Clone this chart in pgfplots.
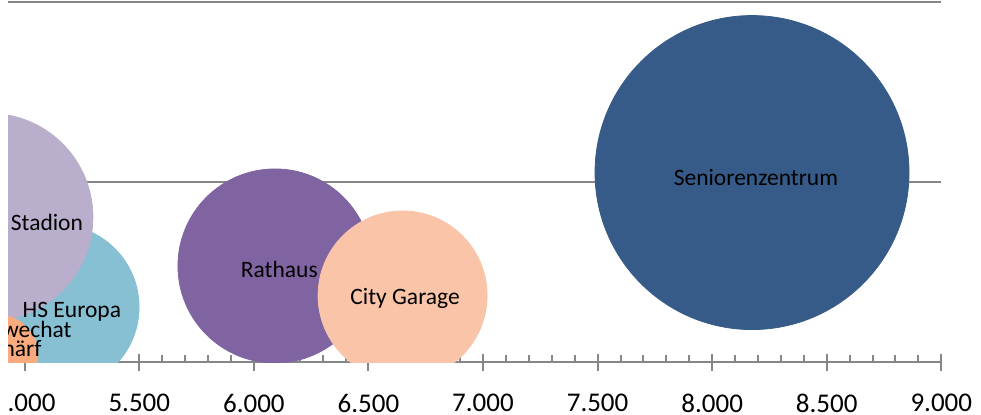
\documentclass[border=0pt]{standalone}
\usepackage{fontspec}
\setmainfont{Carlito}
\usepackage{pgfplots}
\pgfplotsset{compat=1.18}
\definecolor{gridgray}{RGB}{134,134,134}
\definecolor{cSenior}{RGB}{54,91,136}
\definecolor{cRathaus}{RGB}{128,100,161}
\definecolor{cGarage}{RGB}{249,196,168}
\definecolor{cStadion}{RGB}{185,175,204}
\definecolor{cEuropa}{RGB}{134,192,210}
\definecolor{cOrange}{RGB}{250,171,126}
\begin{document}
\begin{tikzpicture}
\begin{axis}[
  scale only axis,
  width=492.65pt, height=180.25pt,
  xmin=4700, xmax=9000, ymin=0, ymax=2,
  clip marker paths=true,
  axis x line*=bottom, axis y line*=left,
  y axis line style={draw=none},
  x axis line style={gridgray, line width=1pt},
  ytick={1,2}, yticklabels={}, ytick style={draw=none},
  ymajorgrids, grid style={gridgray, line width=1pt},
  xtick={5000,5500,...,9000},
  minor x tick num=4,
  xtick align=inside,
  major tick length=8.5pt,
  minor tick length=3.5pt,
  every major tick/.append style={yshift=-4.25pt},
  xtick style={gridgray, line width=1pt},
  x tick label style={font=\fontsize{13.5}{15}\selectfont, text=black, yshift=-12.5pt},
  /pgf/number format/.cd, fixed, precision=0, 1000 sep={.}, assume math mode=true,
]
\coordinate (cl) at (axis cs:4927,0);
\coordinate (ne) at (rel axis cs:1,1);
% bubbles: (x, y), radius given as mark size in pt
\addplot[only marks, mark=*, color=cSenior, mark size=78.5pt] coordinates {(8174,1.051)};
\addplot[only marks, mark=*, color=cRathaus, mark size=48.5pt] coordinates {(6092,0.533)};
\addplot[only marks, mark=*, color=cGarage, mark size=42.25pt] coordinates {(6649,0.369)};
\addplot[only marks, mark=*, color=cEuropa, mark size=41.25pt] coordinates {(5139,0.305)};
\addplot[only marks, mark=*, color=cStadion, mark size=51.85pt] coordinates {(4845,0.804)};
\addplot[only marks, mark=*, color=cOrange, mark size=20pt] coordinates {(4883,0.039)};
\addplot[only marks, mark=*, color=cOrange, mark size=16pt] coordinates {(4860,-0.017)};
% data label anchors
\coordinate (lSenior) at (axis cs:8191,1.026);
\coordinate (lRathaus) at (axis cs:6111,0.516);
\coordinate (lGarage) at (axis cs:6660,0.350);
\coordinate (lStadion) at (axis cs:5097,0.777);
\coordinate (lEuropa) at (axis cs:5206,0.277);
\coordinate (lSchwechat) at (axis cs:5206,0.178);
\coordinate (lSchaerf) at (axis cs:5075,0.078);
\end{axis}
\begin{scope}[every node/.style={font=\fontsize{11.75}{13}\selectfont, text=black, inner sep=0pt}]
\node at (lSenior) {Seniorenzentrum};
\node at (lRathaus) {Rathaus};
\node at (lGarage) {City Garage};
\node at (lStadion) {Stadion};
\node at (lEuropa) {HS Europa};
\node[anchor=east] at (lSchwechat) {Schwechat};
\node[anchor=east] at (lSchaerf) {Schärf};
\end{scope}
\fill[white] ([xshift=-40pt,yshift=-40pt]cl) rectangle ([xshift=-0.01pt,yshift=5pt]cl |- ne);
\pgfresetboundingbox
\useasboundingbox ([xshift=-4pt,yshift=-26pt]cl) rectangle ([xshift=19.85pt,yshift=0.75pt]ne);
\end{tikzpicture}
\end{document}
